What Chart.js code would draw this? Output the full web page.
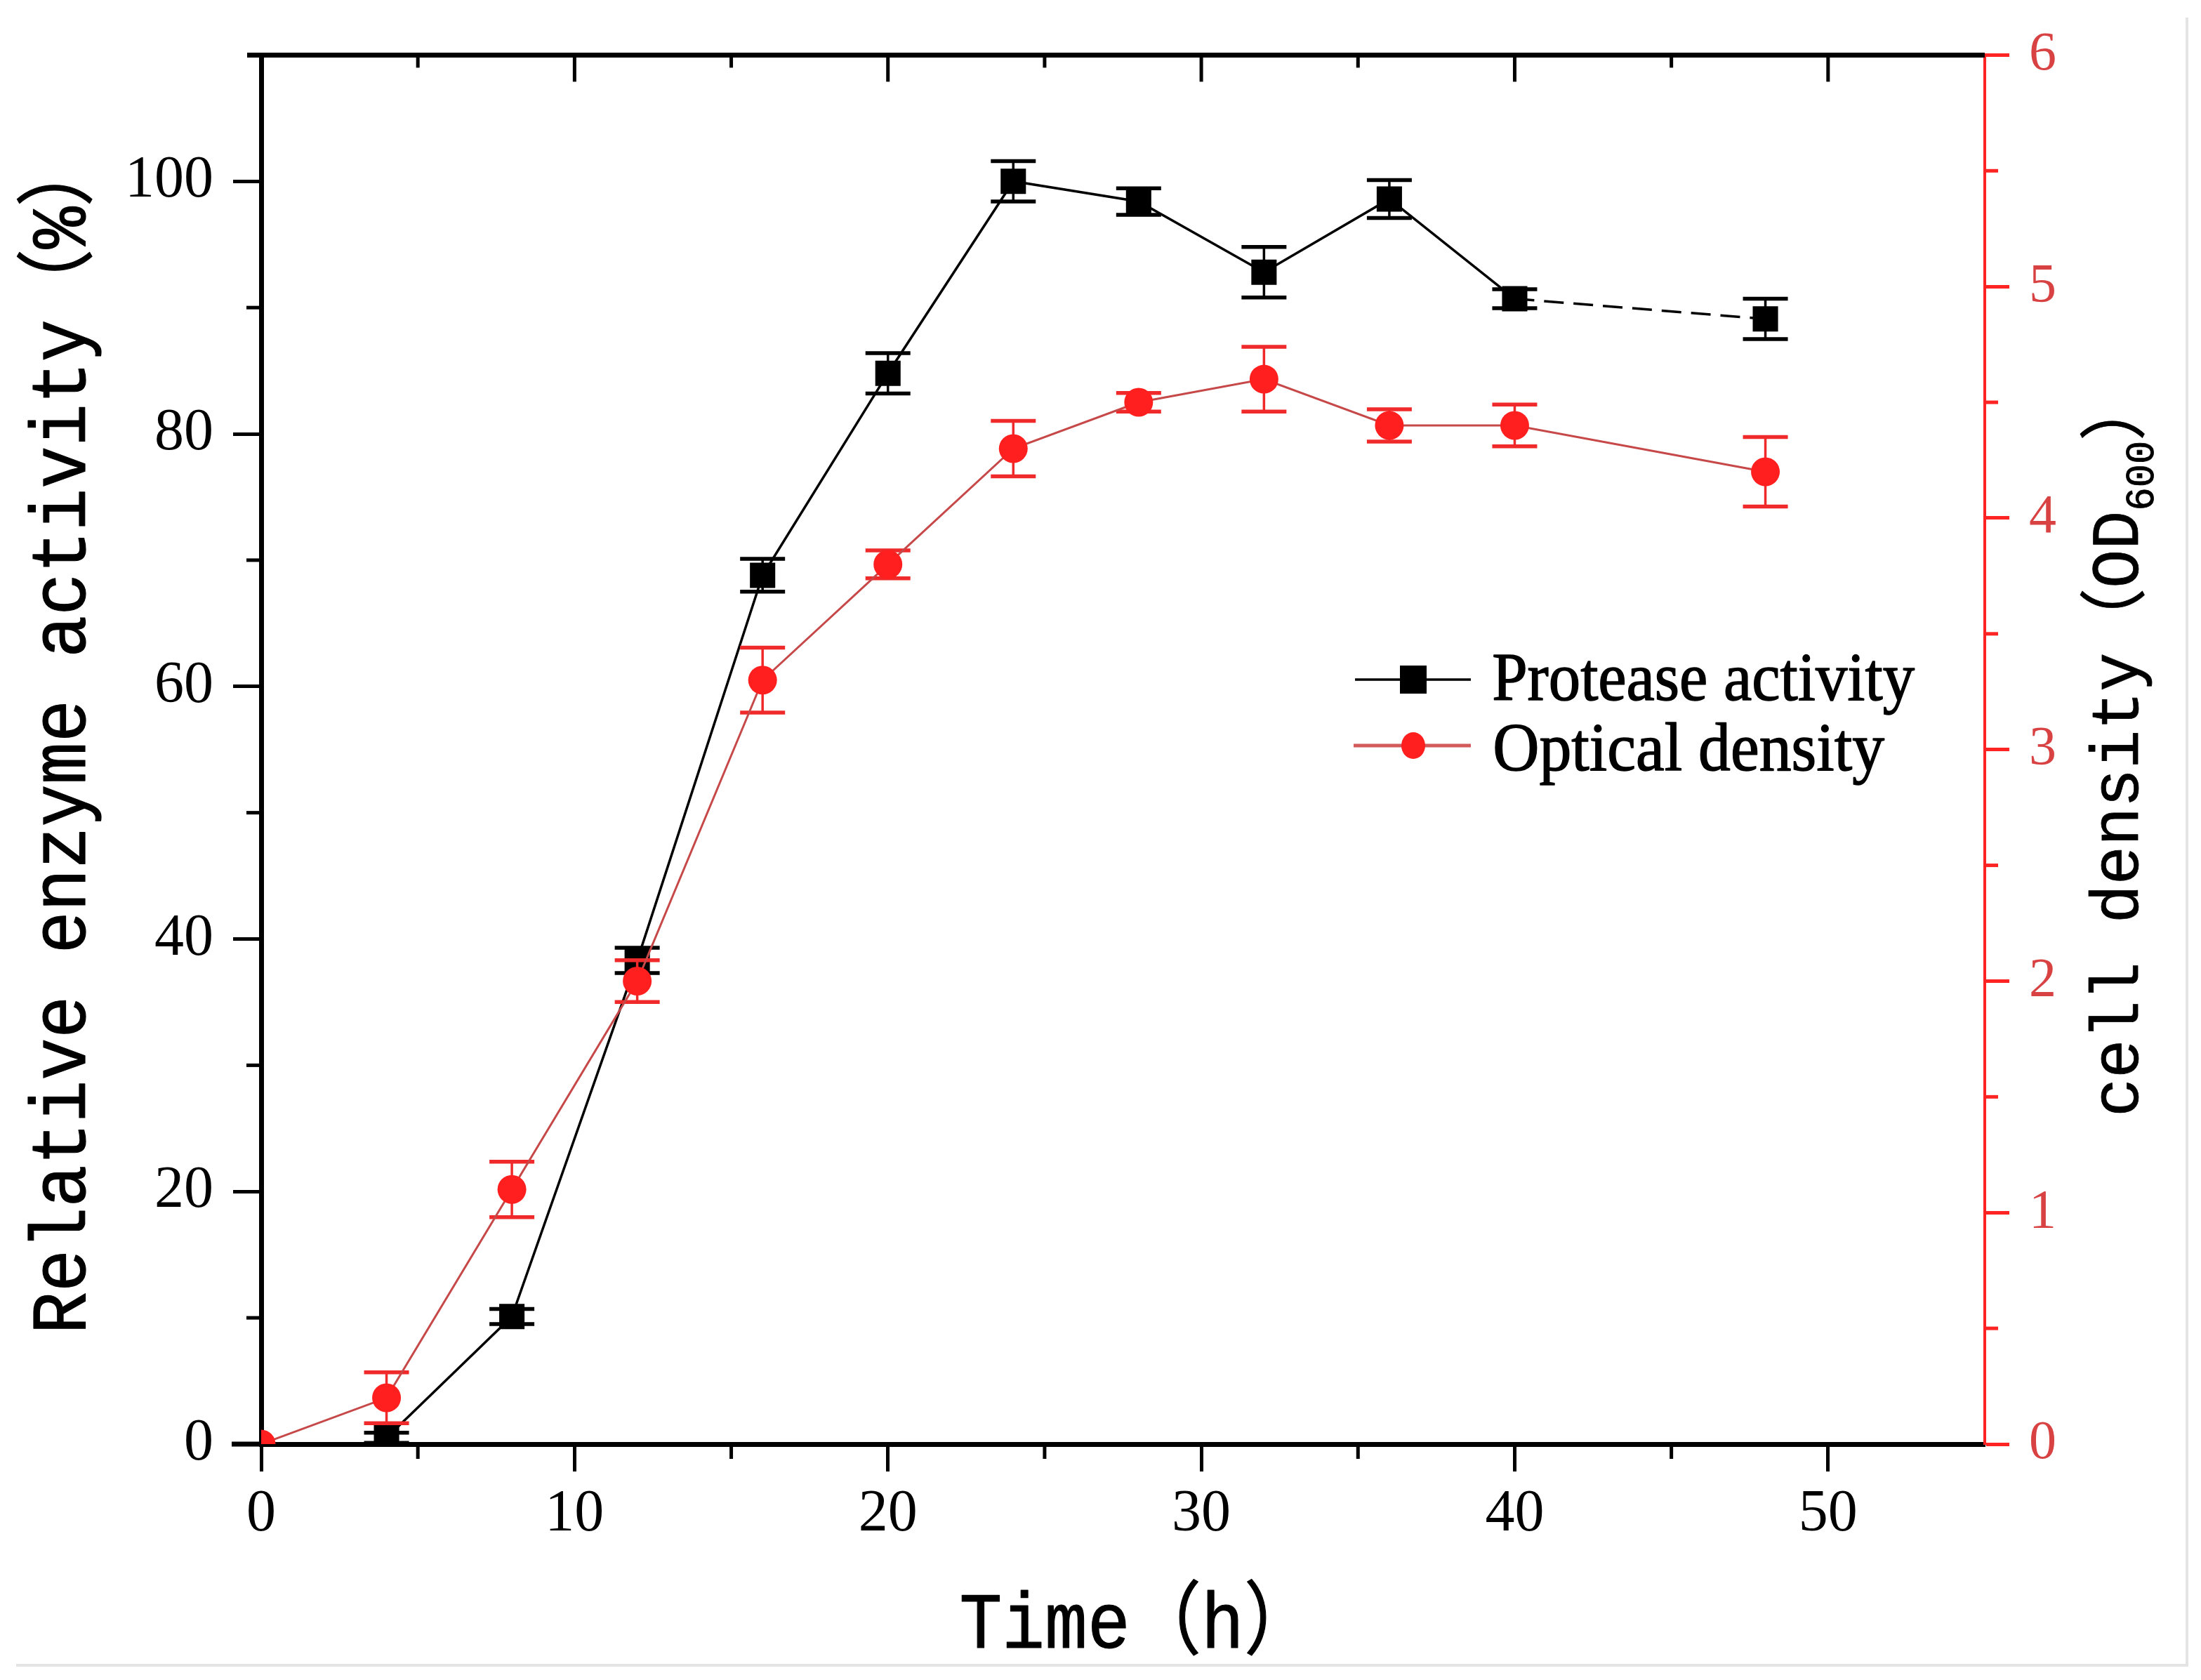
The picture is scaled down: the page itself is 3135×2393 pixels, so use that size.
<!DOCTYPE html>
<html>
<head>
<meta charset="utf-8">
<script src="https://cdn.jsdelivr.net/npm/chart.js@4.4.1/dist/chart.umd.min.js"></script>
<style>
  html, body { margin: 0; padding: 0; background: #ffffff; }
  canvas { display: block; }
</style>
</head>
<body>
<canvas id="chart" width="3135" height="2393" style="width:3135px;height:2393px"></canvas>
<script>
// ---------------- data ----------------
const timeHours        = [0, 4, 8, 12, 16, 20, 24, 28, 32, 36, 40, 48];
const proteaseActivity = [null, 0.5, 10.1, 38.3, 68.8, 84.8, 100.0, 98.4, 92.8, 98.6, 90.7, 89.1];
const proteaseError    = [null, 0.4, 0.6, 1.0, 1.3, 1.6, 1.6, 1.05, 2.0, 1.5, 0.75, 1.6];
const opticalDensity   = [0.0, 0.2, 1.1, 2.0, 3.3, 3.8, 4.3, 4.5, 4.6, 4.4, 4.4, 4.2];
const densityError     = [null, 0.11, 0.12, 0.09, 0.14, 0.06, 0.12, 0.04, 0.14, 0.07, 0.09, 0.15];
const dashedSegmentStart = 40;

const xTickValues     = [0, 10, 20, 30, 40, 50];
const leftTickValues  = [0, 20, 40, 60, 80, 100];
const rightTickValues = [0, 1, 2, 3, 4, 5, 6];
const xMinorValues     = [5, 15, 25, 35, 45];
const leftMinorValues  = [10, 30, 50, 70, 90];
const rightMinorValues = [0.5, 1.5, 2.5, 3.5, 4.5, 5.5];
const topTickValues    = [5, 10, 15, 20, 25, 30, 35, 40, 45, 50];

const seriesNames  = ['Protease activity', 'Optical density'];
const xTitle       = 'Time（h）';
const leftTitle    = 'Relative enzyme activity（%）';
const rightTitle   = ['cell density（OD', '600', '）'];

// ---------------- styles ----------------
const BLACK = '#000000';
const RED_MARK = '#ff1f1f';
const RED_LINE = '#c64848';
const RED_AXIS = '#ff2424';
const RED_LABEL = '#d84242';
const SERIF = '"Liberation Serif", "Times New Roman", serif';
const MONO = '"Liberation Mono", "Noto Sans CJK SC", monospace';

function drawFitted(ctx, parts, x0, y0, rotation, targetInk, color, strokeW) {
  ctx.save();
  let total = 0;
  const ms = [];
  parts.forEach(p => { ctx.font = p.font; const m = ctx.measureText(p.text); ms.push(m); total += m.width; });
  const last = ms[ms.length - 1];
  const inkStart = -ms[0].actualBoundingBoxLeft;
  const inkEnd = (total - last.width) + last.actualBoundingBoxRight;
  const k = targetInk / (inkEnd - inkStart);
  ctx.translate(x0, y0);
  ctx.rotate(rotation);
  ctx.scale(k, 1);
  ctx.translate(-inkStart, 0);
  ctx.fillStyle = color;
  ctx.strokeStyle = color;
  ctx.lineJoin = 'round';
  ctx.textAlign = 'left';
  ctx.textBaseline = 'alphabetic';
  let x = 0;
  parts.forEach((p, i) => {
    ctx.font = p.font;
    ctx.fillText(p.text, x, p.dy || 0);
    if (strokeW) { ctx.lineWidth = strokeW; ctx.strokeText(p.text, x, p.dy || 0); }
    x += ms[i].width;
  });
  ctx.restore();
}

const errorBarPlugin = {
  id: 'errorBars',
  beforeDatasetDraw(chart, args) {
    const ds = chart.data.datasets[args.index];
    if (!ds.errorValues) return;
    const ys = chart.scales[ds.yAxisID];
    const area = chart.chartArea;
    const ctx = chart.ctx;
    ctx.save();
    ctx.beginPath();
    ctx.rect(area.left, area.top, area.right - area.left, area.bottom - area.top);
    ctx.clip();
    ctx.strokeStyle = ds.errorColor;
    args.meta.data.forEach((pt, i) => {
      const d = ds.data[i];
      const e = ds.errorValues[i];
      if (d == null || d.y == null || e == null) return;
      const x = pt.x;
      const yt = ys.getPixelForValue(d.y + e);
      const yb = ys.getPixelForValue(d.y - e);
      ctx.lineWidth = 3.5;
      ctx.beginPath(); ctx.moveTo(x, yt); ctx.lineTo(x, yb); ctx.stroke();
      ctx.lineWidth = 5.5;
      ctx.beginPath();
      ctx.moveTo(x - 32, yt); ctx.lineTo(x + 32, yt);
      ctx.moveTo(x - 32, yb); ctx.lineTo(x + 32, yb);
      ctx.stroke();
    });
    ctx.restore();
  }
};

const decorPlugin = {
  id: 'decor',
  afterDraw(chart) {
    const ctx = chart.ctx;
    const a = chart.chartArea;
    const xs = chart.scales.x, yl = chart.scales.y, yr = chart.scales.y1;
    ctx.save();
    // faint outer frame from source image
    ctx.strokeStyle = '#e4e4e4';
    ctx.lineWidth = 4;
    ctx.beginPath();
    ctx.moveTo(3115, 25); ctx.lineTo(3115, 2372); ctx.lineTo(23, 2372);
    ctx.stroke();

    // top axis line with inward ticks
    ctx.strokeStyle = BLACK;
    ctx.lineWidth = 7;
    ctx.beginPath(); ctx.moveTo(352, a.top); ctx.lineTo(a.right, a.top); ctx.stroke();
    ctx.lineWidth = 5;
    topTickValues.forEach(v => {
      const x = xs.getPixelForValue(v);
      const len = (v % 10 === 0) ? 38 : 18;
      ctx.beginPath(); ctx.moveTo(x, a.top); ctx.lineTo(x, a.top + len); ctx.stroke();
    });
    // bottom axis overhang left
    ctx.lineWidth = 7;
    ctx.beginPath(); ctx.moveTo(330, a.bottom); ctx.lineTo(a.left, a.bottom); ctx.stroke();
    // minor ticks
    ctx.lineWidth = 5;
    xMinorValues.forEach(v => {
      const x = xs.getPixelForValue(v);
      ctx.beginPath(); ctx.moveTo(x, a.bottom); ctx.lineTo(x, a.bottom + 21); ctx.stroke();
    });
    leftMinorValues.forEach(v => {
      const y = yl.getPixelForValue(v);
      ctx.beginPath(); ctx.moveTo(a.left, y); ctx.lineTo(a.left - 21, y); ctx.stroke();
    });
    ctx.strokeStyle = RED_AXIS;
    rightMinorValues.forEach(v => {
      const y = yr.getPixelForValue(v);
      ctx.beginPath(); ctx.moveTo(a.right, y); ctx.lineTo(a.right + 19, y); ctx.stroke();
    });

    // legend
    const lx1 = 1930, lx2 = 2095, lmx = 2013;
    const row1 = 968, row2 = 1062;
    ctx.strokeStyle = BLACK; ctx.lineWidth = 3.5;
    ctx.beginPath(); ctx.moveTo(lx1, row1); ctx.lineTo(lx2, row1); ctx.stroke();
    ctx.fillStyle = BLACK;
    ctx.fillRect(lmx - 19, row1 - 20, 38, 40);
    ctx.strokeStyle = '#d25a5a'; ctx.lineWidth = 5;
    ctx.beginPath(); ctx.moveTo(lx1 - 2, row2); ctx.lineTo(lx2, row2); ctx.stroke();
    ctx.fillStyle = RED_MARK;
    ctx.beginPath(); ctx.ellipse(lmx, row2, 17, 19, 0, 0, Math.PI * 2); ctx.fill();
    drawFitted(ctx, [{ text: seriesNames[0], font: '98px ' + SERIF }], 2127, 997, 0, 600, BLACK, 1.5);
    drawFitted(ctx, [{ text: seriesNames[1], font: '98px ' + SERIF }], 2130, 1097, 0, 554, BLACK, 1.5);

    // axis titles
    drawFitted(ctx, [{ text: xTitle, font: '114px ' + MONO }], 1370, 2347, 0, 433, BLACK, 1.2);
    drawFitted(ctx, [{ text: leftTitle, font: '112px ' + MONO }], 121, 1893, -Math.PI / 2, 1630, BLACK, 1.2);
    drawFitted(ctx, [
      { text: rightTitle[0], font: '96px ' + MONO },
      { text: rightTitle[1], font: '58px ' + MONO, dy: 22 },
      { text: rightTitle[2], font: '96px ' + MONO }
    ], 3045, 1585, -Math.PI / 2, 986, BLACK, 0.8);
    ctx.restore();
  }
};

const ctx = document.getElementById('chart').getContext('2d');
new Chart(ctx, {
  type: 'line',
  data: {
    datasets: [
      {
        label: seriesNames[1],
        data: timeHours.map((t, i) => ({ x: t, y: opticalDensity[i] })),
        yAxisID: 'y1',
        borderColor: RED_LINE,
        borderWidth: 3,
        pointStyle: 'circle',
        pointRadius: 20.5,
        pointBackgroundColor: RED_MARK,
        pointBorderColor: RED_MARK,
        pointBorderWidth: 0,
        tension: 0,
        errorValues: densityError,
        errorColor: '#f02a2a'
      },
      {
        label: seriesNames[0],
        data: timeHours.map((t, i) => ({ x: t, y: proteaseActivity[i] })),
        yAxisID: 'y',
        borderColor: BLACK,
        borderWidth: 3.5,
        pointStyle: 'rect',
        pointRadius: 25.5,
        pointBackgroundColor: BLACK,
        pointBorderColor: BLACK,
        pointBorderWidth: 0,
        tension: 0,
        spanGaps: false,
        segment: {
          borderDash: c => (timeHours[c.p0DataIndex] === dashedSegmentStart ? [28, 14] : undefined)
        },
        errorValues: proteaseError,
        errorColor: BLACK
      }
    ]
  },
  options: {
    responsive: false,
    devicePixelRatio: 1,
    animation: false,
    layout: { padding: { top: 77, left: 0, right: 0, bottom: 0 } },
    plugins: { legend: { display: false }, tooltip: { enabled: false }, title: { display: false } },
    scales: {
      x: {
        type: 'linear', position: 'bottom', min: 0, max: 55,
        afterBuildTicks: s => { s.ticks = xTickValues.map(v => ({ value: v })); },
        afterFit: s => { s.height = 336; },
        ticks: { font: { family: SERIF, size: 84 }, color: BLACK, padding: 12, maxRotation: 0, autoSkip: false },
        grid: { display: true, drawOnChartArea: false, drawTicks: true, tickLength: 39, tickWidth: 5, tickColor: BLACK },
        border: { display: true, color: BLACK, width: 7 }
      },
      y: {
        type: 'linear', position: 'left', min: 0, max: 110,
        afterBuildTicks: s => { s.ticks = leftTickValues.map(v => ({ value: v })); },
        afterFit: s => { s.width = 372; },
        ticks: { font: { family: SERIF, size: 84 }, color: BLACK, padding: 28, autoSkip: false },
        grid: { display: true, drawOnChartArea: false, drawTicks: true, tickLength: 40, tickWidth: 5, tickColor: BLACK },
        border: { display: true, color: BLACK, width: 7 }
      },
      y1: {
        type: 'linear', position: 'right', min: 0, max: 6,
        afterBuildTicks: s => { s.ticks = rightTickValues.map(v => ({ value: v })); },
        afterFit: s => { s.width = 308; },
        ticks: { font: { family: SERIF, size: 78 }, color: RED_LABEL, padding: 28, autoSkip: false },
        grid: { display: true, drawOnChartArea: false, drawTicks: true, tickLength: 35, tickWidth: 5, tickColor: RED_AXIS },
        border: { display: true, color: RED_AXIS, width: 4 }
      }
    }
  },
  plugins: [errorBarPlugin, decorPlugin]
});
</script>
</body>
</html>
